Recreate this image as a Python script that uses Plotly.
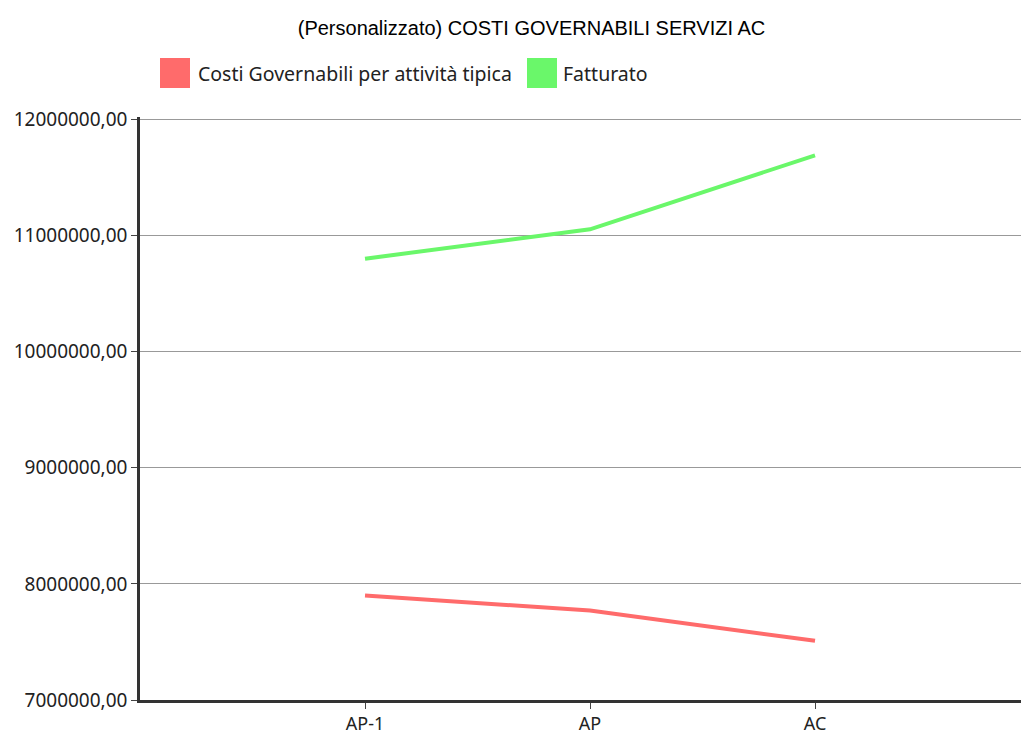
import plotly.graph_objects as go

categories = ["AP-1", "AP", "AC"]
costi = [7900000, 7770000, 7510000]
fatturato = [10800000, 11053000, 11690000]
series_names = ["Costi Governabili per attività tipica", "Fatturato"]
colors = ["#ff6b6b", "#6af76a"]
y_tickvals = [7000000, 8000000, 9000000, 10000000, 11000000, 12000000]
y_ticktext = ["7000000,00", "8000000,00", "9000000,00", "10000000,00", "11000000,00", "12000000,00"]
title_text = "(Personalizzato) COSTI GOVERNABILI SERVIZI AC"

# figure sits at (8,8) in the page because of the default body margin
W, H = 1021, 730
ML, MR, MT, MB = 132, 0, 109, 38
PW, PH = W - ML - MR, H - MT - MB

fig = go.Figure()
for name, vals, col in zip(series_names, [costi, fatturato], colors):
    fig.add_trace(go.Scatter(x=categories, y=vals, mode="lines", name=name,
                             line=dict(color=col, width=4), showlegend=False))

# manual legend (squares + text), figure-pixel positions
legend_sq_x = [152, 519]
legend_txt_x = [190, 555]
shapes = []
annotations = []
for sx, tx, name, col in zip(legend_sq_x, legend_txt_x, series_names, colors):
    shapes.append(dict(type="rect", xref="paper", yref="paper",
                       x0=(sx - ML) / PW, x1=(sx + 30 - ML) / PW,
                       y0=(H - MB - 80) / PH, y1=(H - MB - 50) / PH,
                       fillcolor=col, line=dict(width=0)))
    annotations.append(dict(xref="paper", yref="paper",
                            x=(tx - ML) / PW, y=(H - MB - 65) / PH,
                            text=name, showarrow=False, xanchor="left", yanchor="middle",
                            xshift=-2,
                            font=dict(family="Noto Sans", size=19.5, color="#222")))

fig.update_layout(
    width=W, height=H,
    margin=dict(l=ML, r=MR, t=MT, b=MB),
    paper_bgcolor="white", plot_bgcolor="white",
    title=dict(text=title_text, x=523.5 / W, xanchor="center", y=1 - 20 / H, yanchor="middle",
               font=dict(family="Liberation Sans", size=20, color="#000")),
    shapes=shapes, annotations=annotations,
    xaxis=dict(type="category", range=[-1, 2.951], showgrid=False,
               showline=True, linecolor="#333", linewidth=2.5,
               ticks="outside", ticklen=6, tickcolor="#444", tickwidth=1,
               tickfont=dict(family="Noto Sans", size=18, color="#222")),
    yaxis=dict(range=[7000000, 12020000], tickvals=y_tickvals, ticktext=y_ticktext,
               showgrid=True, gridcolor="#999999", gridwidth=1,
               showline=True, linecolor="#333", linewidth=2.5,
               ticks="outside", ticklen=6, tickcolor="#444", tickwidth=1,
               tickfont=dict(family="Noto Sans", size=19, color="#222"),
               zeroline=False),
)

fig.write_html("out.html")
